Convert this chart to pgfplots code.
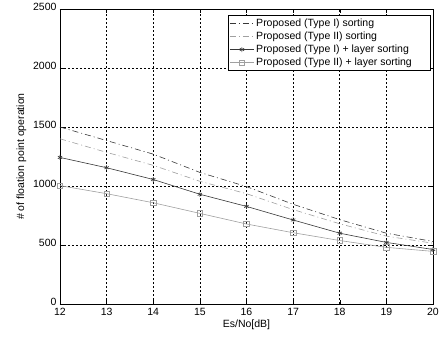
\documentclass[border=0pt]{standalone}
\usepackage{pgfplots}
\pgfplotsset{compat=1.18}
\usepackage{fontspec}
\setmainfont{Liberation Sans}
\definecolor{darkg}{RGB}{55,55,55}
\definecolor{lightg}{RGB}{160,160,160}
\newcommand{\legtxt}[1]{\makebox[170pt][l]{#1}}
\begin{document}
\begin{tikzpicture}
\begin{axis}[
  scale only axis,
  width=373pt, height=295pt,
  xmin=12, xmax=20, ymin=0, ymax=2500,
  xtick={12,...,20}, ytick={0,500,...,2500},
  tick align=inside,
  major tick length=4pt,
  tick style={black, line width=0.5pt},
  axis line style={black, line width=0.6pt},
  grid=major,
  grid style={black, dash pattern=on 2pt off 2pt, line width=0.55pt},
  every tick label/.append style={font=\fontsize{10.5}{12}\selectfont},
  xticklabel style={yshift=-1pt},
  yticklabel style={yshift=2pt},
  /pgf/number format/assume math mode=true,
  /pgf/number format/set thousands separator={},
  xlabel={Es/No[dB]},
  ylabel={\# of floation point operation},
  label style={font=\fontsize{10.5}{12}\selectfont},
  xlabel style={yshift=3pt},
  ylabel style={yshift=0pt},
  legend style={at={(1,1)}, anchor=north east, xshift=-3pt, yshift=-6pt,
    draw=black, line width=0.5pt, font=\fontsize{10.5}{12}\selectfont,
    inner sep=1.5pt, row sep=0pt, cells={anchor=west}},
  legend image code/.code={
    \draw[#1] (0pt,0pt) -- (24pt,0pt);
    \draw[#1, only marks] plot coordinates {(12pt,0pt)};},
  legend cell align=left,
]
\addplot[darkg, line width=0.6pt, dash pattern=on 6pt off 3pt on 1pt off 3pt] coordinates {
(12,1500)(13,1385)(14,1270)(15,1115)(16,995)(17,845)(18,715)(19,600)(20,530)};
\addlegendentry{\legtxt{Proposed (Type I) sorting}}
\addplot[lightg, line width=0.6pt, dash pattern=on 6pt off 3pt on 1pt off 3pt] coordinates {
(12,1400)(13,1285)(14,1175)(15,1040)(16,935)(17,800)(18,680)(19,575)(20,515)};
\addlegendentry{\legtxt{Proposed (Type II) sorting}}
\addplot[darkg, line width=0.6pt, mark=asterisk, mark size=2.5pt, mark options={solid}] coordinates {
(12,1242)(13,1155)(14,1055)(15,930)(16,827)(17,712)(18,600)(19,522)(20,462)};
\addlegendentry{\legtxt{Proposed (Type I) + layer sorting}}
\addplot[lightg, line width=0.6pt, mark=square, mark size=2.8pt, mark options={solid}] coordinates {
(12,1003)(13,935)(14,858)(15,768)(16,678)(17,604)(18,538)(19,480)(20,446)};
\addlegendentry{\legtxt{Proposed (Type II) + layer sorting}}
\end{axis}
\pgfresetboundingbox
\path (-60pt,-37pt) rectangle (382pt,304pt);
\end{tikzpicture}
\end{document}
